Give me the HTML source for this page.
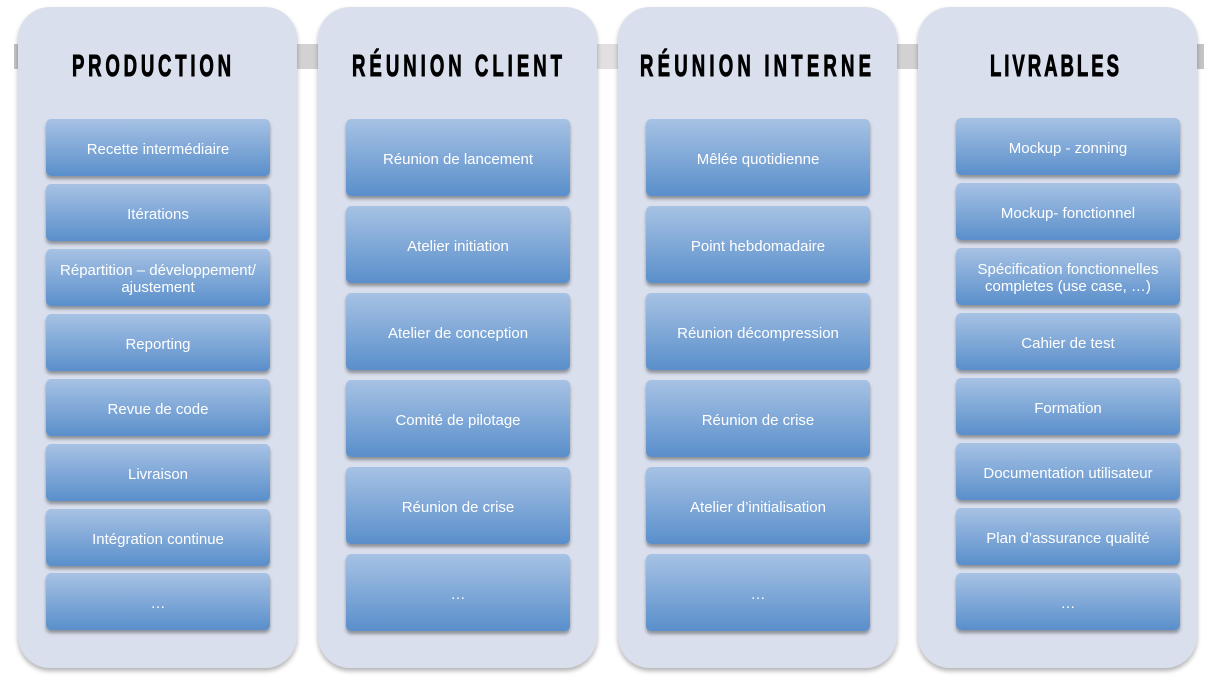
<!DOCTYPE html>
<html><head><meta charset="utf-8"><style>
body{margin:0;width:1214px;height:688px;background:#fff;position:relative;overflow:hidden;font-family:"Liberation Sans",sans-serif}
.bar{position:absolute;left:14px;width:1190px;top:44px;height:25px;background:linear-gradient(90deg,#c4c4c4,#e0e0e0 50%,#c4c4c4)}
.p{position:absolute;top:7px;width:279px;height:661px;background:#d9dfec;border-radius:32px;box-shadow:0 3px 5px rgba(0,0,0,.3)}
.b{position:absolute;width:224px;border-radius:5px;background:linear-gradient(#a7c2e4,#5a8fcb);box-shadow:0 3px 3px rgba(0,0,0,.35);color:#fff;font-size:15px;display:flex;align-items:center;justify-content:center;text-align:center;line-height:17px;padding-top:3px;box-sizing:border-box}
svg{position:absolute;left:0;top:0}
</style></head><body>
<div class="bar"></div>
<div class="p" style="left:18px"></div>
<div class="p" style="left:318px"></div>
<div class="p" style="left:618px"></div>
<div class="p" style="left:918px"></div>
<svg width="1214" height="100" style="font-family:'Liberation Sans',sans-serif;font-weight:bold;font-size:31px">
<g transform="scale(0.6,1)" stroke="#000" stroke-width="1">
<text x="120" y="76" textLength="265" lengthAdjust="spacing">PRODUCTION</text>
<text x="586.7" y="76" textLength="350" lengthAdjust="spacing">RÉUNION CLIENT</text>
<text x="1066.7" y="76" textLength="385" lengthAdjust="spacing">RÉUNION INTERNE</text>
<text x="1650" y="76" textLength="215" lengthAdjust="spacing">LIVRABLES</text>
</g>
</svg>
<div class="b" style="left:46px;top:119px;height:57px">Recette intermédiaire</div>
<div class="b" style="left:46px;top:184px;height:57px">Itérations</div>
<div class="b" style="left:46px;top:249px;height:57px">Répartition – développement/<br>ajustement</div>
<div class="b" style="left:46px;top:314px;height:57px">Reporting</div>
<div class="b" style="left:46px;top:379px;height:57px">Revue de code</div>
<div class="b" style="left:46px;top:444px;height:57px">Livraison</div>
<div class="b" style="left:46px;top:509px;height:57px">Intégration continue</div>
<div class="b" style="left:46px;top:573px;height:57px">…</div>

<div class="b" style="left:346px;top:119px;height:77px">Réunion de lancement</div>
<div class="b" style="left:346px;top:206px;height:77px">Atelier initiation</div>
<div class="b" style="left:346px;top:293px;height:77px">Atelier de conception</div>
<div class="b" style="left:346px;top:380px;height:77px">Comité de pilotage</div>
<div class="b" style="left:346px;top:467px;height:77px">Réunion de crise</div>
<div class="b" style="left:346px;top:554px;height:77px">…</div>

<div class="b" style="left:646px;top:119px;height:77px">Mêlée quotidienne</div>
<div class="b" style="left:646px;top:206px;height:77px">Point hebdomadaire</div>
<div class="b" style="left:646px;top:293px;height:77px">Réunion décompression</div>
<div class="b" style="left:646px;top:380px;height:77px">Réunion de crise</div>
<div class="b" style="left:646px;top:467px;height:77px">Atelier d’initialisation</div>
<div class="b" style="left:646px;top:554px;height:77px">…</div>

<div class="b" style="left:956px;top:118px;height:57px">Mockup - zonning</div>
<div class="b" style="left:956px;top:183px;height:57px">Mockup- fonctionnel</div>
<div class="b" style="left:956px;top:248px;height:57px">Spécification fonctionnelles<br>completes (use case, …)</div>
<div class="b" style="left:956px;top:313px;height:57px">Cahier de test</div>
<div class="b" style="left:956px;top:378px;height:57px">Formation</div>
<div class="b" style="left:956px;top:443px;height:57px">Documentation utilisateur</div>
<div class="b" style="left:956px;top:508px;height:57px">Plan d’assurance qualité</div>
<div class="b" style="left:956px;top:573px;height:57px">…</div>
</body></html>
